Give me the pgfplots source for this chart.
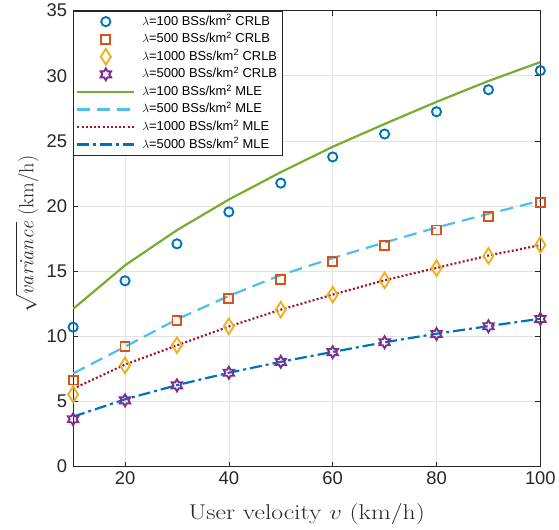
\documentclass[border=0pt]{standalone}
\usepackage{fontspec}
\usepackage{graphicx}
\usepackage{pgfplots}
\pgfplotsset{compat=1.18}
\newfontfamily\arial{Liberation Sans}
\definecolor{mblue}{rgb}{0,0.447,0.741}
\definecolor{morange}{rgb}{0.85,0.325,0.098}
\definecolor{myellow}{rgb}{0.929,0.694,0.125}
\definecolor{mpurple}{rgb}{0.494,0.184,0.556}
\definecolor{mgreen}{rgb}{0.466,0.674,0.188}
\definecolor{mlblue}{rgb}{0.301,0.745,0.933}
\definecolor{mred}{rgb}{0.635,0.078,0.184}
\definecolor{axgray}{rgb}{0.15,0.15,0.15}
\pgfdeclareplotmark{hexagram}{%
  \pgfpathmoveto{\pgfpointpolar{90}{\pgfplotmarksize}}%
  \pgfpathlineto{\pgfpointpolar{120}{0.577\pgfplotmarksize}}%
  \pgfpathlineto{\pgfpointpolar{150}{\pgfplotmarksize}}%
  \pgfpathlineto{\pgfpointpolar{180}{0.577\pgfplotmarksize}}%
  \pgfpathlineto{\pgfpointpolar{210}{\pgfplotmarksize}}%
  \pgfpathlineto{\pgfpointpolar{240}{0.577\pgfplotmarksize}}%
  \pgfpathlineto{\pgfpointpolar{270}{\pgfplotmarksize}}%
  \pgfpathlineto{\pgfpointpolar{300}{0.577\pgfplotmarksize}}%
  \pgfpathlineto{\pgfpointpolar{330}{\pgfplotmarksize}}%
  \pgfpathlineto{\pgfpointpolar{0}{0.577\pgfplotmarksize}}%
  \pgfpathlineto{\pgfpointpolar{30}{\pgfplotmarksize}}%
  \pgfpathlineto{\pgfpointpolar{60}{0.577\pgfplotmarksize}}%
  \pgfpathclose
  \pgfusepathqstroke
}
\pgfdeclareplotmark{mdiamond}{%
  \pgfpathmoveto{\pgfpoint{0pt}{\pgfplotmarksize}}%
  \pgfpathlineto{\pgfpoint{0.64\pgfplotmarksize}{0pt}}%
  \pgfpathlineto{\pgfpoint{0pt}{-\pgfplotmarksize}}%
  \pgfpathlineto{\pgfpoint{-0.64\pgfplotmarksize}{0pt}}%
  \pgfpathclose
  \pgfusepathqstroke
}
\newcommand{\legtxt}[2]{$\lambda${\arial=#1 BSs/km\textsuperscript{2} #2}}
\begin{document}
\begin{tikzpicture}
\begin{axis}[
  scale only axis,
  width=468.4bp, height=457bp,
  xmin=10, xmax=100, ymin=0, ymax=35,
  xtick={20,40,...,100}, ytick={0,5,...,35},
  grid=major,
  major grid style={color=black!11, line width=0.6pt},
  axis line style={color=axgray, line width=0.6pt},
  every tick/.style={color=axgray, line width=0.6pt},
  major tick length=5bp,
  /pgf/number format/assume math mode=true,
  ticklabel style={font=\arial\fontsize{18.5}{22}\selectfont, color=axgray},
  yticklabel style={xshift=-2.5bp},
  xticklabel style={yshift=-2bp},
  xlabel={\scalebox{1.2}[1]{User velocity $v$ (km/h)}},
  ylabel={$\sqrt{\mathit{variance}}$ (km/h)},
  every axis x label/.style={at={(axis description cs:0.5,-0.105)}, anchor=center,
    font=\fontsize{21.5}{25}\selectfont, color=axgray},
  every axis y label/.style={at={(axis description cs:-0.099,0.51)}, rotate=90, anchor=center,
    inner sep=0pt, font=\fontsize{20.5}{24}\selectfont, color=axgray},
  legend style={at={(0,1)}, anchor=north west, draw=axgray, fill=white,
    font=\fontsize{13}{15}\selectfont, row sep=0pt, inner xsep=3bp, inner ysep=2bp,
    nodes={inner ysep=1.8bp, text height=10.5bp, text depth=3.5bp},
    /tikz/every odd column/.append style={column sep=5bp}},
  legend cell align=left,
  legend image code/.code={\draw[mark repeat=2,mark phase=2,#1] plot coordinates {(0bp,0bp) (28.5bp,0bp) (57bp,0bp)};},
]
\addplot[only marks, mark=o, mark size=4.6bp, mblue, line width=1.9bp] coordinates {
(10,10.7) (20,14.26) (30,17.1) (40,19.55) (50,21.76) (60,23.77) (70,25.53) (80,27.24) (90,28.93) (100,30.4)};
\addlegendentry{\legtxt{100}{CRLB}}
\addplot[only marks, mark=square, mark size=4.5bp, morange, line width=1.9bp] coordinates {
(10,6.64) (20,9.2) (30,11.2) (40,12.88) (50,14.39) (60,15.74) (70,17.0) (80,18.16) (90,19.23) (100,20.28)};
\addlegendentry{\legtxt{500}{CRLB}}
\addplot[only marks, mark=mdiamond, mark size=7.8bp, myellow, line width=1.9bp] coordinates {
(10,5.54) (20,7.76) (30,9.31) (40,10.77) (50,12.04) (60,13.19) (70,14.29) (80,15.23) (90,16.17) (100,17.02)};
\addlegendentry{\legtxt{1000}{CRLB}}
\addplot[only marks, mark=hexagram, mark size=6bp, mpurple, line width=1.9bp] coordinates {
(10,3.63) (20,5.08) (30,6.23) (40,7.2) (50,8.04) (60,8.78) (70,9.54) (80,10.18) (90,10.77) (100,11.33)};
\addlegendentry{\legtxt{5000}{CRLB}}
\addplot[mgreen, line width=2.2bp, mark=none] coordinates {
(10,12.1) (20,15.45) (30,18.15) (40,20.5) (50,22.6) (60,24.55) (70,26.3) (80,28.0) (90,29.6) (100,31.05)};
\addlegendentry{\legtxt{100}{MLE}}
\addplot[mlblue, line width=2.2bp, mark=none, dash pattern=on 13bp off 7bp] coordinates {
(10,7.15) (20,9.2) (30,11.3) (40,13.1) (50,14.7) (60,16.0) (70,17.2) (80,18.35) (90,19.4) (100,20.4)};
\addlegendentry{\legtxt{500}{MLE}}
\addplot[mred, line width=2.2bp, mark=none, dash pattern=on 2bp off 2.2bp] coordinates {
(10,5.97) (20,7.83) (30,9.3) (40,10.75) (50,12.04) (60,13.2) (70,14.3) (80,15.25) (90,16.2) (100,17.0)};
\addlegendentry{\legtxt{1000}{MLE}}
\addplot[mblue, line width=2.2bp, mark=none, dash pattern=on 12bp off 4bp on 3bp off 4bp] coordinates {
(10,3.83) (20,5.16) (30,6.25) (40,7.2) (50,8.04) (60,8.8) (70,9.54) (80,10.2) (90,10.78) (100,11.35)};
\addlegendentry{\legtxt{5000}{MLE}}
\end{axis}
\path ([xshift=-73.3bp,yshift=-63.3bp]current axis.south west) rectangle ([xshift=17.3bp,yshift=10.7bp]current axis.north east);
\end{tikzpicture}
\end{document}
